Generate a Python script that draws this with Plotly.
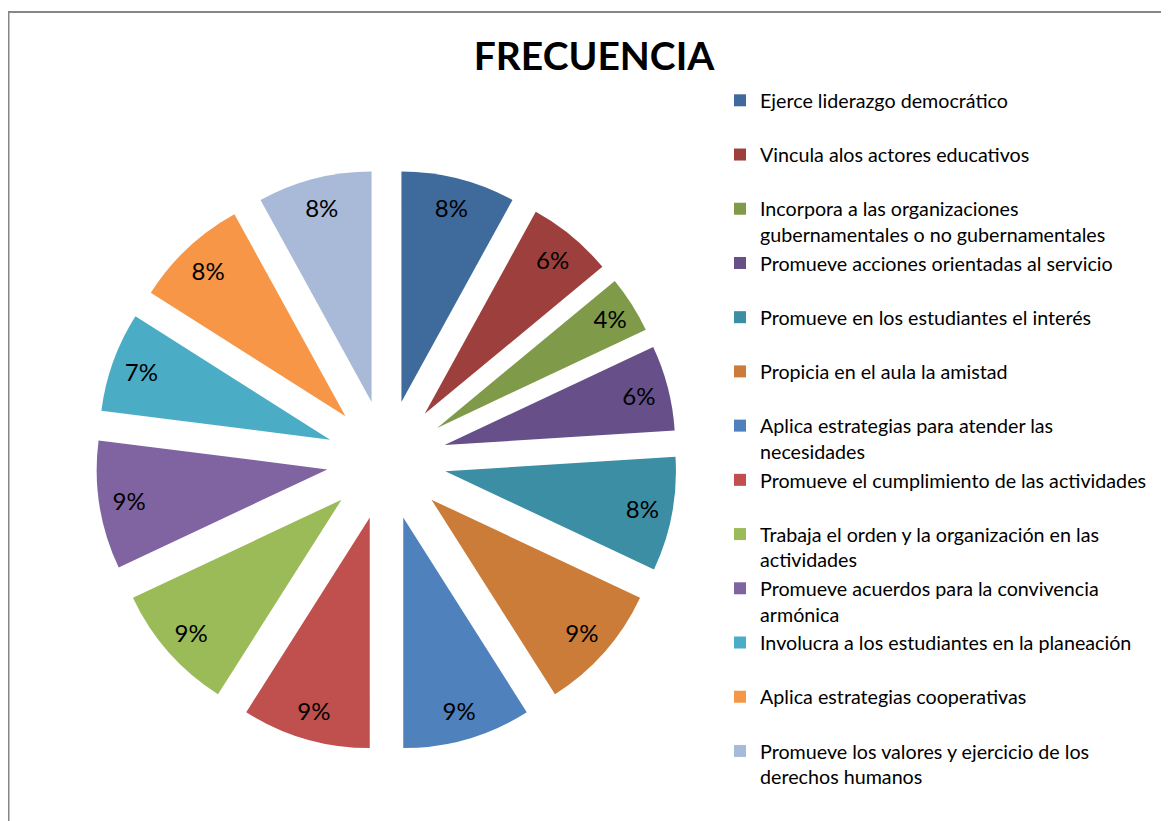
import plotly.graph_objects as go

categories = [
    "Ejerce liderazgo democrático",
    "Vincula alos actores educativos",
    "Incorpora a las organizaciones<br>gubernamentales o no gubernamentales",
    "Promueve acciones orientadas al servicio",
    "Promueve en los estudiantes el interés",
    "Propicia en el aula la amistad",
    "Aplica estrategias para atender las<br>necesidades",
    "Promueve el cumplimiento de las actividades",
    "Trabaja el orden y la organización en las<br>actividades",
    "Promueve acuerdos para la convivencia<br>armónica",
    "Involucra a los estudiantes en la planeación",
    "Aplica estrategias cooperativas",
    "Promueve los valores y ejercicio de los<br>derechos humanos",
]
values = [8, 6, 4, 6, 8, 9, 9, 9, 9, 9, 7, 8, 8]
colors = ["#3F6A9C", "#9D3F3C", "#7F9A48", "#67508A", "#3C8EA5", "#CB7C38",
          "#4F81BD", "#C0504D", "#9BBB59", "#8064A2", "#4BACC6", "#F79646", "#A9B9D8"]

# pad single-line labels to two lines so every legend slot has equal height
legend_labels = [c if "<br>" in c else c + "<br> " for c in categories]

W, H = 1169, 821
# page has an 8px body margin; figure coordinates are page coordinates minus 8
cx, cy, R = 378.5, 452, 290.5
dom = dict(x=[(cx - R) / W, (cx + R) / W], y=[(H - cy - R) / H, (H - cy + R) / H])
PULL = 0.26

fig = go.Figure()
# coloured wedges (legend comes from this trace)
fig.add_trace(go.Pie(
    labels=legend_labels,
    values=values,
    sort=False,
    direction="clockwise",
    rotation=0,
    pull=[PULL] * len(values),
    marker=dict(colors=colors, line=dict(width=0)),
    textinfo="none",
    domain=dom,
    hoverinfo="label+percent",
))
# transparent ring overlay carrying the percentage labels near the outer edge
fig.add_trace(go.Pie(
    labels=legend_labels,
    values=values,
    sort=False,
    direction="clockwise",
    rotation=0,
    pull=[PULL] * len(values),
    hole=0.74,
    marker=dict(colors=["rgba(0,0,0,0)"] * len(values), line=dict(width=0)),
    texttemplate="%{percent:.0%}",
    textposition="inside",
    insidetextorientation="horizontal",
    textfont=dict(family="Lato", size=24, color="black"),
    domain=dom,
    showlegend=False,
    hoverinfo="skip",
))

fig.update_layout(
    width=W, height=H,
    margin=dict(l=0, r=0, t=0, b=0),
    paper_bgcolor="white",
    plot_bgcolor="white",
    font=dict(family="Lato", color="black"),
    uniformtext=dict(minsize=24, mode="show"),
    title=dict(text="<b>FRECUENCIA</b>", x=586 / W, xanchor="center",
               y=1 - 48.5 / H, yanchor="middle",
               font=dict(family="Lato", size=39, color="black")),
    showlegend=True,
    legend=dict(x=712 / W, xanchor="left", y=1 - 73 / H, yanchor="top",
                valign="top", traceorder="normal",
                font=dict(family="Lato", size=19.7, color="black"),
                bgcolor="rgba(0,0,0,0)"),
    shapes=[
        dict(type="line", xref="paper", yref="paper", x0=0.5 / W, x1=0.5 / W,
             y0=0, y1=1 - 3 / H, line=dict(color="#868686", width=2)),
        dict(type="line", xref="paper", yref="paper", x0=0, x1=1,
             y0=1 - 4 / H, y1=1 - 4 / H, line=dict(color="#868686", width=2)),
    ],
)

fig.write_html("out.html")
